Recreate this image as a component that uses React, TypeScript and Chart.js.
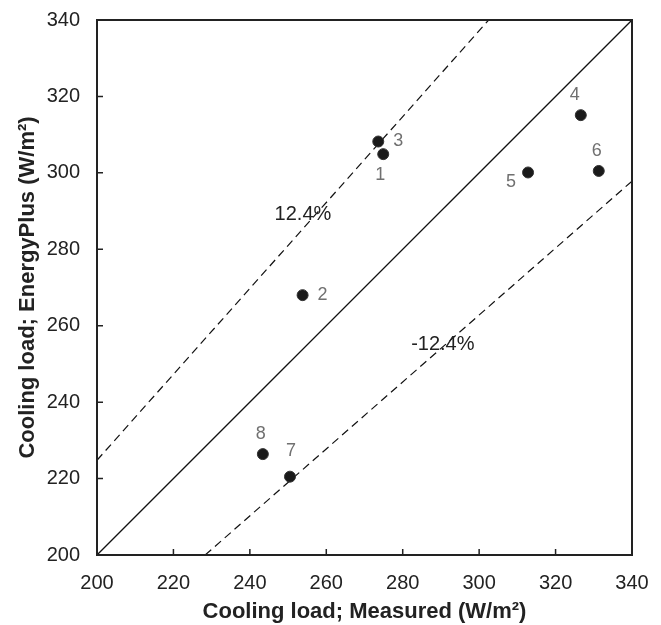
import React, { useEffect, useRef } from "react";
import { Chart, registerables } from "chart.js";

Chart.register(...registerables);

// Data
const measured = [274.9, 253.8, 273.6, 326.6, 312.8, 331.3, 250.5, 243.4];
const energyPlus = [304.9, 268.0, 308.2, 315.1, 300.1, 300.5, 220.5, 226.4];
const pointLabels = ["1", "2", "3", "4", "5", "6", "7", "8"];
const labelPlacement = ["below", "right", "right", "aboveLeft", "leftBelow", "above", "aboveHigh", "above"];
const axisMin = 200;
const axisMax = 340;
const axisStep = 20;
const bandPct = 12.4;
const bandLabels = ["12.4%", "-12.4%"];
const bandLabelPos = [
  { x: 253.9, y: 289.0 },
  { x: 290.5, y: 255.0 },
];
const xTitle = "Cooling load; Measured (W/m\u00B2)";
const yTitle = "Cooling load; EnergyPlus (W/m\u00B2)";

const FONT = "'Liberation Sans', Arial, Helvetica, sans-serif";

const placementOffsets: Record<string, [number, number]> = {
  below: [-3, 21],
  right: [20, 0],
  aboveLeft: [-6, -20],
  leftBelow: [-17, 10],
  above: [-2, -20],
  aboveHigh: [1, -26],
};

const upper = 1 + bandPct / 100;
const lower = 1 - bandPct / 100;

const zeroPad = (scale: any) => {
  scale.paddingTop = 0;
  scale.paddingBottom = 0;
  scale.paddingLeft = 0;
  scale.paddingRight = 0;
};

const frameAndTicks = {
  id: "frameAndTicks",
  afterDatasetsDraw(chart: any) {
    const { ctx, chartArea, scales } = chart;
    const { left, right, top, bottom } = chartArea;
    ctx.save();
    ctx.strokeStyle = "#222";
    ctx.lineWidth = 2;
    ctx.strokeRect(left, top, right - left, bottom - top);
    ctx.lineWidth = 1.5;
    ctx.beginPath();
    for (let v = axisMin + axisStep; v < axisMax; v += axisStep) {
      const px = scales.x.getPixelForValue(v);
      ctx.moveTo(px, bottom);
      ctx.lineTo(px, bottom - 6);
      const py = scales.y.getPixelForValue(v);
      ctx.moveTo(left, py);
      ctx.lineTo(left + 6, py);
    }
    ctx.stroke();

    // point number labels
    ctx.fillStyle = "#707070";
    ctx.font = `18px ${FONT}`;
    ctx.textAlign = "center";
    ctx.textBaseline = "middle";
    measured.forEach((mx, i) => {
      const px = scales.x.getPixelForValue(mx);
      const py = scales.y.getPixelForValue(energyPlus[i]);
      const off = placementOffsets[labelPlacement[i]];
      ctx.fillText(pointLabels[i], px + off[0], py + off[1]);
    });

    // band labels
    ctx.fillStyle = "#222";
    ctx.font = `20px ${FONT}`;
    bandLabels.forEach((t, i) => {
      ctx.fillText(
        t,
        scales.x.getPixelForValue(bandLabelPos[i].x),
        scales.y.getPixelForValue(bandLabelPos[i].y)
      );
    });
    ctx.restore();
  },
};

export default function App() {
  const ref = useRef<HTMLCanvasElement>(null);

  useEffect(() => {
    if (!ref.current) return;
    const chart = new Chart(ref.current, {
      type: "scatter",
      data: {
        datasets: [
          {
            label: "points",
            data: measured.map((x, i) => ({ x, y: energyPlus[i] })),
            pointRadius: 5.5,
            pointHoverRadius: 5.5,
            backgroundColor: "#1a1a1a",
            borderColor: "#333",
            borderWidth: 1,
            showLine: false,
            order: 0,
          },
          {
            label: "1:1",
            data: [
              { x: axisMin, y: axisMin },
              { x: axisMax, y: axisMax },
            ],
            showLine: true,
            borderColor: "#111",
            borderWidth: 1.3,
            pointRadius: 0,
            order: 1,
          },
          {
            label: "+",
            data: [
              { x: axisMin, y: axisMin * upper },
              { x: axisMax / upper, y: axisMax },
            ],
            showLine: true,
            borderColor: "#111",
            borderWidth: 1.2,
            borderDash: [8, 5],
            pointRadius: 0,
            order: 1,
          },
          {
            label: "-",
            data: [
              { x: axisMin / lower, y: axisMin },
              { x: axisMax, y: axisMax * lower },
            ],
            showLine: true,
            borderColor: "#111",
            borderWidth: 1.2,
            borderDash: [8, 5],
            pointRadius: 0,
            order: 1,
          },
        ],
      },
      options: {
        animation: false,
        responsive: false,
        devicePixelRatio: 1,
        layout: { padding: { top: 20, right: 29, left: 0, bottom: 0 } },
        plugins: {
          legend: { display: false },
          tooltip: { enabled: false },
        },
        scales: {
          x: {
            type: "linear",
            min: axisMin,
            max: axisMax,
            grid: { display: false, drawTicks: false },
            border: { display: false },
            ticks: {
              stepSize: axisStep,
              color: "#222",
              font: { family: FONT, size: 20 },
              padding: 16,
              maxRotation: 0,
            },
            title: {
              display: true,
              text: xTitle,
              color: "#222",
              font: { family: FONT, size: 22, weight: "bold" },
              padding: { top: 0, bottom: 0 },
            },
            afterFit(scale: any) {
              scale.height = 70;
              zeroPad(scale);
            },
          },
          y: {
            type: "linear",
            min: axisMin,
            max: axisMax,
            grid: { display: false, drawTicks: false },
            border: { display: false },
            ticks: {
              stepSize: axisStep,
              color: "#222",
              font: { family: FONT, size: 20 },
              padding: 17,
            },
            title: {
              display: true,
              text: yTitle,
              color: "#222",
              font: { family: FONT, size: 22, weight: "bold" },
              padding: { top: 15, bottom: 0 },
            },
            afterFit(scale: any) {
              scale.width = 97;
              zeroPad(scale);
            },
          },
        },
      },
      plugins: [frameAndTicks],
    });
    return () => chart.destroy();
  }, []);

  return (
    <div style={{ position: "fixed", left: 0, top: 0, width: 661, height: 625, background: "#fff" }}>
      <canvas ref={ref} width={661} height={625} />
    </div>
  );
}
